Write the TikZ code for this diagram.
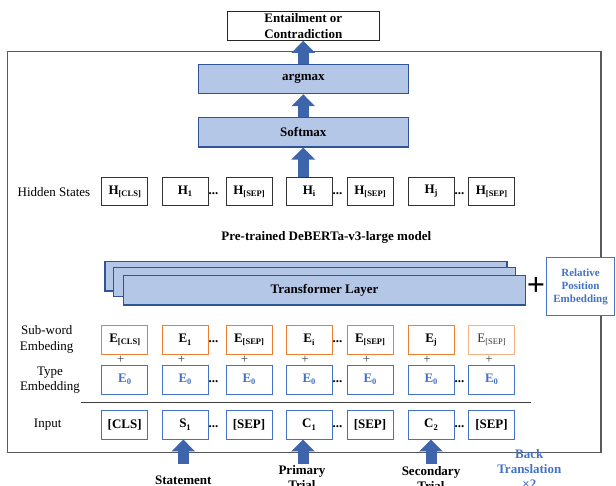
\documentclass[tikz,border=0pt]{standalone}
\usepackage{fontspec}
\setmainfont{Liberation Serif}
\usetikzlibrary{arrows.meta}
\definecolor{barfill}{HTML}{B4C7E7}
\definecolor{barborder}{HTML}{2F5597}
\definecolor{arrowc}{HTML}{3E64AC}
\definecolor{orangeb}{HTML}{ED7D31}
\definecolor{orangel}{HTML}{F4B183}
\definecolor{blueb}{HTML}{4472C4}
\definecolor{bluet}{HTML}{4472C4}
\definecolor{framec}{HTML}{595959}
\newcommand{\subsc}[1]{\raisebox{-0.35ex}{\fontsize{8.5}{9}\selectfont #1}}
\begin{document}
\begin{tikzpicture}[x=1pt,y=-1pt,
  every node/.style={font=\fontsize{13}{15.6}\selectfont},
  bar/.style={draw=barborder, fill=barfill, line width=1.2pt, minimum width=210pt, minimum height=29.3pt, inner sep=0pt, font=\bfseries\fontsize{13}{15}\selectfont},
  tlayer/.style={draw=barborder, fill=barfill, line width=1.2pt, minimum width=402pt, minimum height=29.3pt, inner sep=0pt, font=\bfseries\fontsize{13}{15}\selectfont},
  hbox/.style={draw=black!80, line width=0.95pt, fill=white, minimum width=46pt, minimum height=28.6pt, inner sep=0pt, font=\bfseries\fontsize{13}{15}\selectfont},
  obox/.style={hbox, draw=orangeb},
  olbox/.style={hbox, draw=orangel, font=\fontsize{13}{15}\selectfont, text=black!80},
  tbox/.style={hbox, draw=blueb, text=bluet},
  ibox/.style={hbox, draw=blueb},
  dotsn/.style={inner sep=0pt, font=\bfseries\fontsize{13}{15}\selectfont},
  plusn/.style={inner sep=0pt, font=\fontsize{13}{13}\selectfont, text=black!75},
  lbl/.style={align=center, inner sep=0pt, font=\fontsize{13}{15.6}\selectfont},
  blbl/.style={align=center, inner sep=0pt, font=\bfseries\fontsize{13}{15}\selectfont},
  blockarrow/.style={draw=arrowc, line width=11pt, -{Triangle[width=23pt,length=12pt,fill=arrowc]}}
]
\useasboundingbox (0,0) rectangle (616,486);
\clip (0,0) rectangle (616,486);

% outer frame
\draw[framec, line width=1.2pt] (7.3,51.7) rectangle (601,452.7);

% top
\node[draw=black!85, line width=1pt, fill=white, minimum width=152pt, minimum height=29.3pt, inner sep=0pt, align=center, font=\bfseries\fontsize{13}{16}\selectfont] (out) at (303.3,25.7) {Entailment or\\Contradiction};
\node[bar] (argmax) at (303.3,79) {argmax};
\node[bar] (softmax) at (303.3,132.3) {Softmax};

% hidden states
\node[lbl] (hslbl) at (54,192.3) {Hidden States};
\node[hbox] (h1) at (124.7,191.5) {H\subsc{[CLS]}};
\node[hbox] (h2) at (185,191.5) {H\subsc{1}};
\node[hbox] (h3) at (249,191.5) {H\subsc{[SEP]}};
\node[hbox] (h4) at (309,191.5) {H\subsc{i}};
\node[hbox] (h5) at (370,191.5) {H\subsc{[SEP]}};
\node[hbox] (h6) at (431,191.5) {H\subsc{j}};
\node[hbox] (h7) at (491.5,191.5) {H\subsc{[SEP]}};
\node[dotsn] (hd1) at (213.5,193.5) {...};
\node[dotsn] (hd2) at (337.5,193.5) {...};
\node[dotsn] (hd3) at (459.5,193.5) {...};

\node[blbl] (model) at (326.3,237.7) {Pre-trained DeBERTa-v3-large model};

% transformer stack
\node[tlayer] (tl1) at (305.9,276.4) {};
\node[tlayer] (tl2) at (314.5,282) {};
\node[tlayer] (tl3) at (324.5,290.4) {Transformer Layer};
\node[inner sep=0pt, font=\bfseries\fontsize{32}{32}\selectfont] (bigplus) at (536,286) {+};

% sub-word embedding
\node[lbl] (swlbl) at (46.7,339.5) {Sub-word\\Embeding};
\node[obox] (e1) at (124.7,339.7) {E\subsc{[CLS]}};
\node[obox] (e2) at (185,339.7) {E\subsc{1}};
\node[obox] (e3) at (249,339.7) {E\subsc{[SEP]}};
\node[obox] (e4) at (309,339.7) {E\subsc{i}};
\node[obox] (e5) at (370,339.7) {E\subsc{[SEP]}};
\node[obox] (e6) at (431,339.7) {E\subsc{j}};
\node[olbox] (e7) at (491.5,339.7) {E\subsc{[SEP]}};
\node[dotsn] (ed1) at (213.5,341.7) {...};
\node[dotsn] (ed2) at (337.5,341.7) {...};

% plus signs
\node[plusn] (p1) at (120.7,360) {+};
\node[plusn] (p2) at (181.5,360) {+};
\node[plusn] (p3) at (244.5,360) {+};
\node[plusn] (p4) at (305,360) {+};
\node[plusn] (p5) at (366.5,360) {+};
\node[plusn] (p6) at (427,360) {+};
\node[plusn] (p7) at (489,360) {+};

% type embedding
\node[lbl] (tylbl) at (50,380) {Type\\Embedding};
\node[tbox] (t1) at (124.7,379.7) {E\subsc{0}};
\node[tbox] (t2) at (185,379.7) {E\subsc{0}};
\node[tbox] (t3) at (249,379.7) {E\subsc{0}};
\node[tbox] (t4) at (309,379.7) {E\subsc{0}};
\node[tbox] (t5) at (370,379.7) {E\subsc{0}};
\node[tbox] (t6) at (431,379.7) {E\subsc{0}};
\node[tbox] (t7) at (491.5,379.7) {E\subsc{0}};
\node[dotsn] (td1) at (213.5,381.7) {...};
\node[dotsn] (td2) at (337.5,381.7) {...};
\node[dotsn] (td3) at (459.5,381.7) {...};

% separator
\coordinate (sepl) at (81,402.7);
\coordinate (sepr) at (530.7,402.7);
\draw[black!75, line width=1pt] (sepl) -- (sepr);

% input
\node[lbl] (inlbl) at (47.7,425) {Input};
\node[ibox] (i1) at (124.7,424.7) {[CLS]};
\node[ibox] (i2) at (185,424.7) {S\subsc{1}};
\node[ibox] (i3) at (249,424.7) {[SEP]};
\node[ibox] (i4) at (309,424.7) {C\subsc{1}};
\node[ibox] (i5) at (370,424.7) {[SEP]};
\node[ibox] (i6) at (431,424.7) {C\subsc{2}};
\node[ibox] (i7) at (491.5,424.7) {[SEP]};
\node[dotsn] (id1) at (213.5,426.7) {...};
\node[dotsn] (id2) at (337.5,426.7) {...};
\node[dotsn] (id3) at (459.5,426.7) {...};

% relative position embedding
\node[draw=blueb, line width=1pt, fill=white, minimum width=67.5pt, minimum height=58pt, inner sep=0pt, align=center, text=bluet, font=\bfseries\fontsize{11}{13.3}\selectfont] (rpe) at (580.6,286.7) {Relative\\Position\\Embedding};

% arrows
\draw[blockarrow] (argmax.north) -- (out.south);
\draw[blockarrow] (softmax.north) -- (argmax.south);
\draw[blockarrow] (h4.north -| softmax.south) -- (softmax.south);

\coordinate (sa) at (183.3,464);
\coordinate (pa) at (303,464);
\coordinate (ca) at (431,464);
\draw[blockarrow] (sa) -- (sa |- i2.south);
\draw[blockarrow] (pa) -- (pa |- i4.south);
\draw[blockarrow] (ca) -- (ca |- i6.south);

% bottom labels
\node[blbl] (stmt) at (183.3,480) {Statement};
\node[blbl] (prim) at (302,477.5) {Primary\\Trial};
\node[blbl] (sec) at (431,478.5) {Secondary\\Trial};
\node[blbl, text=bluet] (bt) at (529.3,469) {Back\\Translation\\×2};
\end{tikzpicture}
\end{document}
